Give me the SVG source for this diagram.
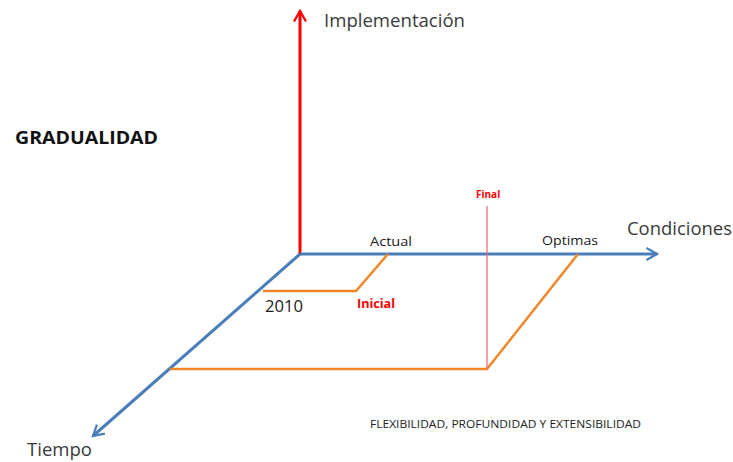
<svg xmlns="http://www.w3.org/2000/svg" width="733" height="462" viewBox="0 0 733 462">
<style>
text{font-family:"Open Sans","Noto Sans",sans-serif;fill:#404040}
.ax{fill:#3a3a3a;font-size:18.5px}
.sm{font-size:13.5px;fill:#1a1a1a}
.red{fill:#ff0000;font-weight:bold;font-size:12px}
.blue{stroke:#4a7ebb;stroke-width:3;fill:none}
.org{stroke:#f0882a;stroke-width:2.5;fill:none}
</style>
<defs>
<marker id="ab" viewBox="0 0 10 10" refX="8" refY="5" markerWidth="5" markerHeight="5" orient="auto" markerUnits="strokeWidth"><path d="M1,1 L8,5 L1,9" fill="none" stroke="#4a7ebb" stroke-width="1.5"/></marker>
<marker id="ar" viewBox="0 0 10 10" refX="8" refY="5" markerWidth="5" markerHeight="5" orient="auto" markerUnits="strokeWidth"><path d="M1,1 L8,5 L1,9" fill="none" stroke="#ff0000" stroke-width="1.5"/></marker>
</defs>
<g id="connectors">
<line x1="300" y1="255" x2="300" y2="11" stroke="#ff0000" stroke-width="3" marker-end="url(#ar)"/>
<line class="blue" x1="300" y1="254" x2="657" y2="254" marker-end="url(#ab)"/>
<line class="blue" x1="300" y1="254" x2="93" y2="436" marker-end="url(#ab)"/>
<polyline class="org" points="388,254 356,291 263,291"/>
<polyline class="org" points="578,254 487,369 170,369"/>
<line x1="487" y1="206" x2="487" y2="369" stroke="#ff6070" stroke-width="1.2"/>
</g>
<g id="implementacion"><text class="ax" x="324" y="27" textLength="141" lengthAdjust="spacingAndGlyphs">Implementación</text></g>
<g id="condiciones"><text class="ax" x="627" y="235" textLength="105" lengthAdjust="spacingAndGlyphs">Condiciones</text></g>
<g id="tiempo"><text class="ax" x="27" y="456" style="font-size:17.5px" textLength="65" lengthAdjust="spacingAndGlyphs">Tiempo</text></g>
<g id="gradualidad"><text x="15" y="144" font-size="18" font-weight="bold" textLength="143" lengthAdjust="spacingAndGlyphs" style="fill:#111">GRADUALIDAD</text></g>
<g id="actual"><text class="sm" x="370" y="246" textLength="42" lengthAdjust="spacingAndGlyphs">Actual</text></g>
<g id="optimas"><text class="sm" x="542" y="245" textLength="56" lengthAdjust="spacingAndGlyphs">Optimas</text></g>
<g id="final"><text class="red" x="476" y="198" style="font-size:10px">Final</text></g>
<g id="inicial"><text class="red" x="357" y="308" textLength="38" lengthAdjust="spacingAndGlyphs">Inicial</text></g>
<g id="y2010"><text x="265" y="312" font-size="15.5" textLength="38" lengthAdjust="spacingAndGlyphs" style="fill:#222">2010</text></g>
<g id="flex"><text x="370" y="428" font-size="10.5" textLength="271" lengthAdjust="spacingAndGlyphs" style="fill:#222">FLEXIBILIDAD, PROFUNDIDAD Y EXTENSIBILIDAD</text></g>
</svg>
